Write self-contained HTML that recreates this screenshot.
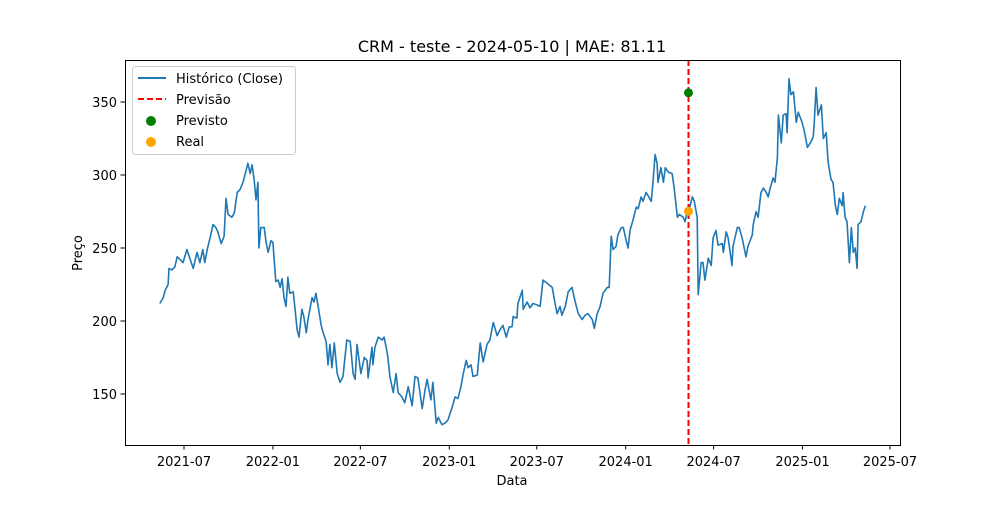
<!DOCTYPE html>
<html><head><meta charset="utf-8"><style>
body{margin:0;background:#fff;}
svg{font-family:"DejaVu Sans","Liberation Sans",sans-serif;}
</style></head><body>
<svg id="chart" width="1000" height="500" viewBox="0 0 1000 500" xmlns="http://www.w3.org/2000/svg">
<rect width="1000" height="500" fill="#fff"/>
<text x="512" y="52" font-size="16" text-anchor="middle" fill="#000">CRM - teste - 2024-05-10 | MAE: 81.11</text>
<g id="marks"></g>
<rect x="125.5" y="60.5" width="775" height="385" fill="none" stroke="#000" stroke-width="1"/>
<g id="axes"></g>
<text x="512" y="485" font-size="13" text-anchor="middle">Data</text>
<text transform="translate(82,253) rotate(-90)" font-size="13" text-anchor="middle">Preço</text>
<g>
<rect x="132.5" y="66.5" width="163" height="88" rx="3" fill="#fff" fill-opacity="0.8" stroke="#ccc"/>
<line x1="138" y1="78" x2="166" y2="78" stroke="#1f77b4" stroke-width="2"/>
<text x="176" y="83" font-size="13">Histórico (Close)</text>
<line x1="138" y1="99" x2="166" y2="99" stroke="#ff0000" stroke-width="2" stroke-dasharray="6,3"/>
<text x="176" y="104" font-size="13">Previsão</text>
<circle cx="151" cy="121" r="5" fill="green"/>
<text x="176" y="125" font-size="13">Previsto</text>
<circle cx="151" cy="142" r="5" fill="orange"/>
<text x="176" y="146" font-size="13">Real</text>
</g>
</svg>
<script>
// days since 2021-07-01
const days = [-50,-43,-39,-33,-31,-25,-19,-14,-8,-2,6,12,19,27,33,39,43,48,54,60,66,70,77,83,87,91,99,104,110,116,122,130,132,137,141,145,149,153,155,159,166,170,174,180,184,190,195,199,203,207,211,215,219,226,230,234,238,244,248,253,257,265,269,273,277,284,288,294,298,302,306,311,317,323,329,337,344,350,354,358,366,373,379,381,389,391,395,402,410,414,420,422,426,433,439,443,451,457,464,472,478,484,493,499,503,511,515,522,526,534,540,546,555,561,567,573,578,584,588,594,598,607,613,619,627,633,640,648,654,660,667,673,679,681,689,691,700,702,710,716,722,731,737,743,751,762,768,772,778,782,789,795,803,809,816,824,830,836,845,849,855,861,867,876,880,884,888,894,898,905,909,915,919,923,929,936,940,946,950,956,960,967,971,975,979,981,987,992,996,1002,1010,1014,1021,1025,1033,1037,1041,1045,1052,1056,1062,1064,1070,1074,1078,1085,1091,1095,1101,1105,1114,1116,1122,1126,1134,1136,1145,1149,1155,1163,1167,1176,1178,1184,1188,1194,1199,1205,1209,1213,1219,1223,1228,1230,1236,1240,1246,1248,1252,1256,1261,1267,1271,1279,1283,1290,1296,1302,1304,1308,1312,1319,1323,1329,1333,1339,1343,1348,1352,1356,1362,1364,1368,1372,1377,1381,1385,1389,1393,1395,1401,1406,1410];
const closeValues = [212,216,221,225,236,235,237,244,242,240,249,243,236,247,240,249,240,249,257,266,264,261,253,258,284,273,271,274,288,290,295,305,308,301,307,297,283,295,250,264,264,254,247,255,254,227,228,223,229,216,210,230,219,220,208,194,189,208,203,192,202,216,213,219,211,197,192,186,170,184,168,185,164,158,162,187,186,164,160,184,164,175,173,161,182,170,182,189,187,189,179,175,162,151,164,151,148,144,155,142,162,161,140,153,160,146,158,130,134,129,130,132,141,148,147,155,164,173,168,170,162,163,185,172,184,187,199,190,194,197,189,196,196,203,202,212,221,208,213,209,212,211,210,228,226,223,212,205,210,204,210,220,223,214,205,201,204,205,201,195,205,210,219,223,223,258,249,251,259,264,264,255,250,262,269,278,277,285,282,288,286,282,297,314,308,295,305,295,305,302,301,292,271,273,271,268,275,276,285,282,271,218,240,240,228,243,238,257,262,252,253,247,261,257,238,251,264,264,257,244,251,259,266,275,271,288,291,288,285,291,298,295,312,341,322,341,342,329,366,355,357,336,343,336,331,319,322,326,334,360,341,348,325,329,309,297,295,279,273,284,279,288,271,268,240,264,247,250,236,266,268,275,279];
const forecastDay = [1044];
const predictedValue = [356.3];
const realValue = [275.2];
const xTickDays = [0,184,365,549,730,914,1096,1280,1461];
const xTickLabels = ["2021-07","2022-01","2022-07","2023-01","2023-07","2024-01","2024-07","2025-01","2025-07"];
const yTicks = [150,200,250,300,350];

const NS = "http://www.w3.org/2000/svg";
const xs = d => 184 + d * 706 / 1461;
const ys = v => 394 - (v - 150) * 1.46;
const marks = document.getElementById('marks');
const axes = document.getElementById('axes');
function mk(tag, attrs, parent){const e=document.createElementNS(NS,tag);for(const k in attrs)e.setAttribute(k,attrs[k]);parent.appendChild(e);return e;}

const pts = days.map((d,i)=>xs(d).toFixed(1)+","+ys(closeValues[i]).toFixed(1)).join(" ");
const line = mk('polyline',{points:pts,fill:'none',stroke:'#1f77b4','stroke-width':1.6,'stroke-linejoin':'round'},marks);



const vx = xs(forecastDay[0]);
const vl = mk('line',{x1:vx,x2:vx,y1:60,y2:445,stroke:'#ff0000','stroke-width':2,'stroke-dasharray':'6,3'},marks);


const pc = mk('circle',{cx:vx,cy:ys(predictedValue[0]),r:4.5,fill:'green'},marks);


const rc = mk('circle',{cx:vx,cy:ys(realValue[0]),r:4.5,fill:'orange'},marks);



xTickDays.forEach((d,i)=>{
  const x = xs(d);
  const t = mk('line',{x1:x,x2:x,y1:445,y2:449.5,stroke:'#000'},axes);
  
  
  const l = mk('text',{x:x,y:466,'font-size':13,'text-anchor':'middle'},axes);
  l.textContent = xTickLabels[i];
  
  
});
yTicks.forEach(v=>{
  const y = ys(v);
  const t = mk('line',{x1:120.5,x2:125,y1:y,y2:y,stroke:'#000'},axes);
  
  
  const l = mk('text',{x:117,y:y+5,'font-size':13,'text-anchor':'end'},axes);
  l.textContent = v;
  
  
});
</script>
</body></html>
